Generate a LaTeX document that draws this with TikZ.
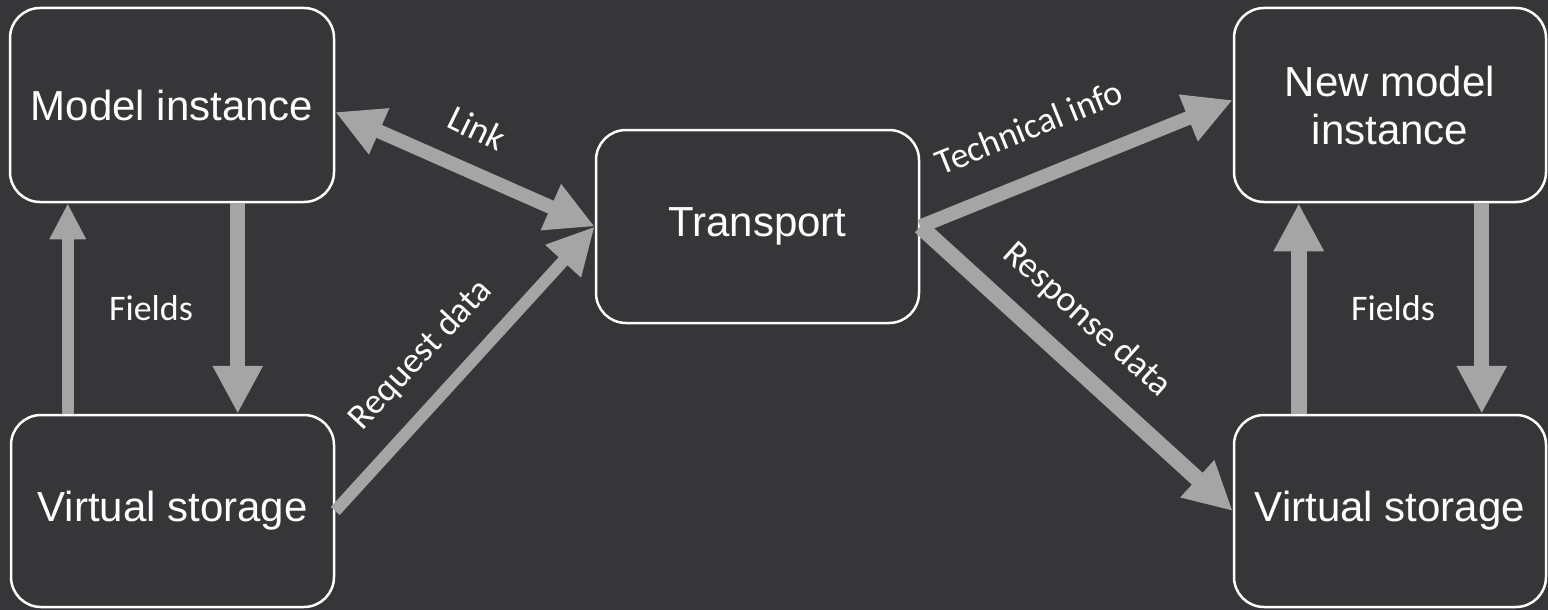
\documentclass[tikz,border=0pt]{standalone}
\usepackage{fontspec}
\setmainfont{Liberation Sans}
\newfontfamily\labfont{Carlito}
\usetikzlibrary{arrows.meta}
\definecolor{bg}{HTML}{363538}
\definecolor{arr}{HTML}{A5A5A5}
\begin{document}
\begin{tikzpicture}[x=1pt,y=-1pt,
  box/.style={draw=white, line width=2.5pt, rounded corners=30pt, fill=bg, text=white,
              font=\fontsize{42}{48}\selectfont, align=center, inner sep=0pt},
  lab/.style={text=white, font=\labfont\fontsize{36}{40}\selectfont, inner sep=0pt},
  conn/.style={draw=arr, line cap=butt},
  bighead/.style={-{Triangle[length=48pt,width=47pt]}},
]
\fill[bg] (0,0) rectangle (1548,610);
\useasboundingbox (0,0) rectangle (1548,610);

\node[box, minimum width=324pt, minimum height=194pt] (mi) at (172,105) {Model instance};
\node[box, minimum width=323pt, minimum height=192pt] (vsl) at (172.5,511) {Virtual storage};
\node[box, minimum width=323pt, minimum height=193pt] (tr) at (757.5,226.5) {Transport};
\node[box, minimum width=312pt, minimum height=194pt] (nmi) at (1390,105) {New model\\instance};
\node[box, minimum width=312pt, minimum height=192pt] (vsr) at (1390,511) {Virtual storage};

% left vertical arrows
\draw[conn, line width=12pt, -{Triangle[length=36pt,width=34pt]}]
  ([xshift=58pt]vsl.north west) -- ([xshift=58pt]vsl.north west |- mi.south);
\draw[conn, line width=15pt, bighead]
  ([xshift=229pt]mi.south west) -- ([xshift=229pt]mi.south west |- vsl.north);
% right vertical arrows
\draw[conn, line width=16pt, bighead]
  ([xshift=66pt]vsr.north west) -- ([xshift=66pt]vsr.north west |- nmi.south);
\draw[conn, line width=15pt, bighead]
  ([xshift=249pt]nmi.south west) -- ([xshift=249pt]nmi.south west |- vsr.north);

% diagonal arrows
\draw[conn, line width=14pt, {Triangle[length=48pt,width=47pt]}-{Triangle[length=48pt,width=47pt]}]
  ([yshift=-7pt]mi.east) -- (tr.west);
\draw[conn, line width=12pt, -{Triangle[length=47pt,width=45pt]}]
  (vsl.east) -- (tr.west);
\draw[conn, line width=14pt, bighead]
  (tr.east) -- ([yshift=5pt]nmi.west);
\draw[conn, line width=16pt, bighead]
  (tr.east) -- (vsr.west);

% labels
\node[lab, rotate=-26] (llink) at (477,128) {Link};
\node[lab] (lf1) at (151,308) {Fields};
\node[lab] (lf2) at (1393,308) {Fields};
\node[lab, rotate=47] (lreq) at (421,355) {Request data};
\node[lab, rotate=22] (ltech) at (1029,127) {Technical info};
\node[lab, rotate=-42] (lresp) at (1087,320) {Response data};
\end{tikzpicture}
\end{document}
